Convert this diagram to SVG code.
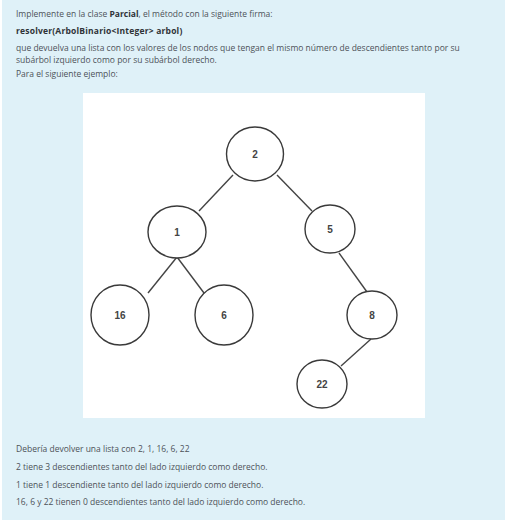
<svg xmlns="http://www.w3.org/2000/svg" width="511" height="525" viewBox="0 0 511 525">
<style>
.t{font-family:"Open Sans","Noto Sans",sans-serif;font-size:8.5px;fill:#4d5258}
.b{font-weight:bold;fill:#2f3337}
.ls{letter-spacing:0.2px}
.n ellipse{fill:#fff;stroke:#3a3a3a;stroke-width:1.4}
.n text{font-family:"Liberation Sans",Arial,sans-serif;font-size:10px;font-weight:bold;fill:#444;text-anchor:middle}
.e line{stroke:#444;stroke-width:1.4}
</style>
<rect x="0" y="0" width="511" height="525" fill="#ffffff"/>
<rect x="2" y="0" width="503" height="520" fill="#dff1f8"/>
<g id="texto-superior">
<text class="t" x="16" y="17">Implemente en la clase <tspan class="b">Parcial</tspan>, el método con la siguiente firma:</text>
<text class="t b ls" x="16" y="34">resolver(ArbolBinario&lt;Integer&gt; arbol)</text>
<text class="t" x="16" y="51">que devuelva una lista con los valores de los nodos que tengan el mismo número de descendientes tanto por su</text>
<text class="t" x="16" y="63">subárbol izquierdo como por su subárbol derecho.</text>
<text class="t" x="16" y="77">Para el siguiente ejemplo:</text>
</g>
<rect x="83" y="93" width="342" height="325" fill="#ffffff"/>
<g id="conectores" class="e">
<line x1="233" y1="175" x2="199" y2="211"/>
<line x1="277" y1="175" x2="312" y2="211"/>
<line x1="177" y1="257" x2="148" y2="293"/>
<line x1="177" y1="257" x2="204" y2="293"/>
<line x1="339" y1="253" x2="367" y2="292"/>
<line x1="371" y1="339" x2="341" y2="366"/>
</g>
<g id="n2" class="n"><ellipse cx="255" cy="154" rx="28.5" ry="27"/><text x="255" y="158">2</text></g>
<g id="n1" class="n"><ellipse cx="177" cy="232" rx="29" ry="26"/><text x="177" y="236">1</text></g>
<g id="n5" class="n"><ellipse cx="330" cy="229" rx="25" ry="24"/><text x="330" y="233">5</text></g>
<g id="n16" class="n"><ellipse cx="120" cy="315" rx="29" ry="30"/><text x="120" y="319">16</text></g>
<g id="n6" class="n"><ellipse cx="224" cy="315" rx="29" ry="30"/><text x="224" y="319">6</text></g>
<g id="n8" class="n"><ellipse cx="372" cy="315" rx="25" ry="24"/><text x="372" y="319">8</text></g>
<g id="n22" class="n"><ellipse cx="322" cy="384" rx="25" ry="24"/><text x="322" y="388">22</text></g>
<g id="texto-inferior">
<text class="t" x="16" y="452">Debería devolver una lista con 2, 1, 16, 6, 22</text>
<text class="t" x="16" y="470">2 tiene 3 descendientes tanto del lado izquierdo como derecho.</text>
<text class="t" x="16" y="488">1 tiene 1 descendiente tanto del lado izquierdo como derecho.</text>
<text class="t" x="16" y="505">16, 6 y 22 tienen 0 descendientes tanto del lado izquierdo como derecho.</text>
</g>
</svg>
